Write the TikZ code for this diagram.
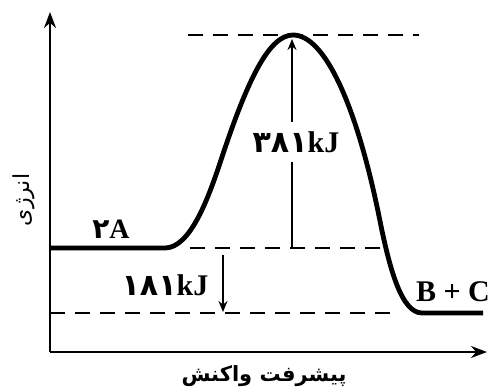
\documentclass[tikz,border=0pt]{standalone}
\usepackage{fontspec}
\setmainfont{Liberation Serif}
\newfontfamily\arabicfont[Script=Arabic]{DejaVu Sans}
\TeXXeTstate=1
\usetikzlibrary{arrows.meta}
\newcommand{\fatext}[1]{{\arabicfont\beginR #1\endR}}
\newcommand{\fanum}[1]{{\arabicfont #1}}

\begin{document}
\begin{tikzpicture}[
  x=0.5pt,y=0.5pt,
  axis/.style={-{Stealth[length=8pt,width=6pt]},line width=1pt},
  path/.style={line width=2.4pt,line join=round},
  level/.style={dash pattern=on 7.5pt off 5pt,line width=1pt},
  gap/.style={-{Stealth[length=5.5pt,width=4.5pt]},line width=0.8pt},
  lbl/.style={font=\fontsize{15}{17}\selectfont\bfseries,inner sep=1pt}
]
\useasboundingbox (0,0) rectangle (493,386);

% Axes.
\coordinate (origin) at (50,34);
\coordinate (ytip) at (50,374);
\coordinate (xtip) at (487,34);
\draw[axis] (origin)--(ytip);
\draw[axis] (origin)--(xtip);
\node[rotate=90,font=\fontsize{11}{13}\selectfont] (ylabel) at (24,186)
  {\fatext{انرژی}};
\node[font=\fontsize{10.5}{13}\selectfont\bfseries] (xlabel) at (264,10)
  {\fatext{پیشرفت واکنش}};

% Energy profile.
\coordinate (reactL) at (50,138);
\coordinate (reactR) at (165,138);
\coordinate (peak) at (293,351);
\coordinate (prodL) at (422,73);
\coordinate (prodR) at (483,73);
\draw[path] (reactL)--(reactR)
  .. controls (190,138) and (208,187) .. (220,223)
  .. controls (246,302) and (268,351) .. (peak)
  .. controls (325,351) and (357,280) .. (380,165)
  .. controls (390,115) and (402,73) .. (prodL)
  --(prodR);

% Reference levels.
\draw[level] (188,351)--(419,351);
\draw[level] (190,138)--(383,138);
\draw[level] (50,73)--(395,73);

% Activation energy.
\coordinate (actbase) at (292,138);
\coordinate (acttop) at (292,347);
\node[lbl,minimum height=20pt] (actlabel) at (296,244)
  {\fanum{۳۸۱}kJ};
\draw[line width=0.8pt] (actbase)--(actbase |- actlabel.south);
\draw[gap] (actbase |- actlabel.north)--(acttop);

% Reaction enthalpy.
\coordinate (dhtop) at (223,131);
\coordinate (dhbot) at (223,74);
\draw[gap] (dhtop)--(dhbot);
\node[lbl] (dhlabel) at (165,101) {\fanum{۱۸۱}kJ};

% Species.
\node[lbl,font=\fontsize{14}{16}\selectfont\bfseries] (reactants) at (111,157)
  {\fanum{۲}A};
\node[lbl] (products) at (453,94) {B + C};
\end{tikzpicture}
\end{document}
